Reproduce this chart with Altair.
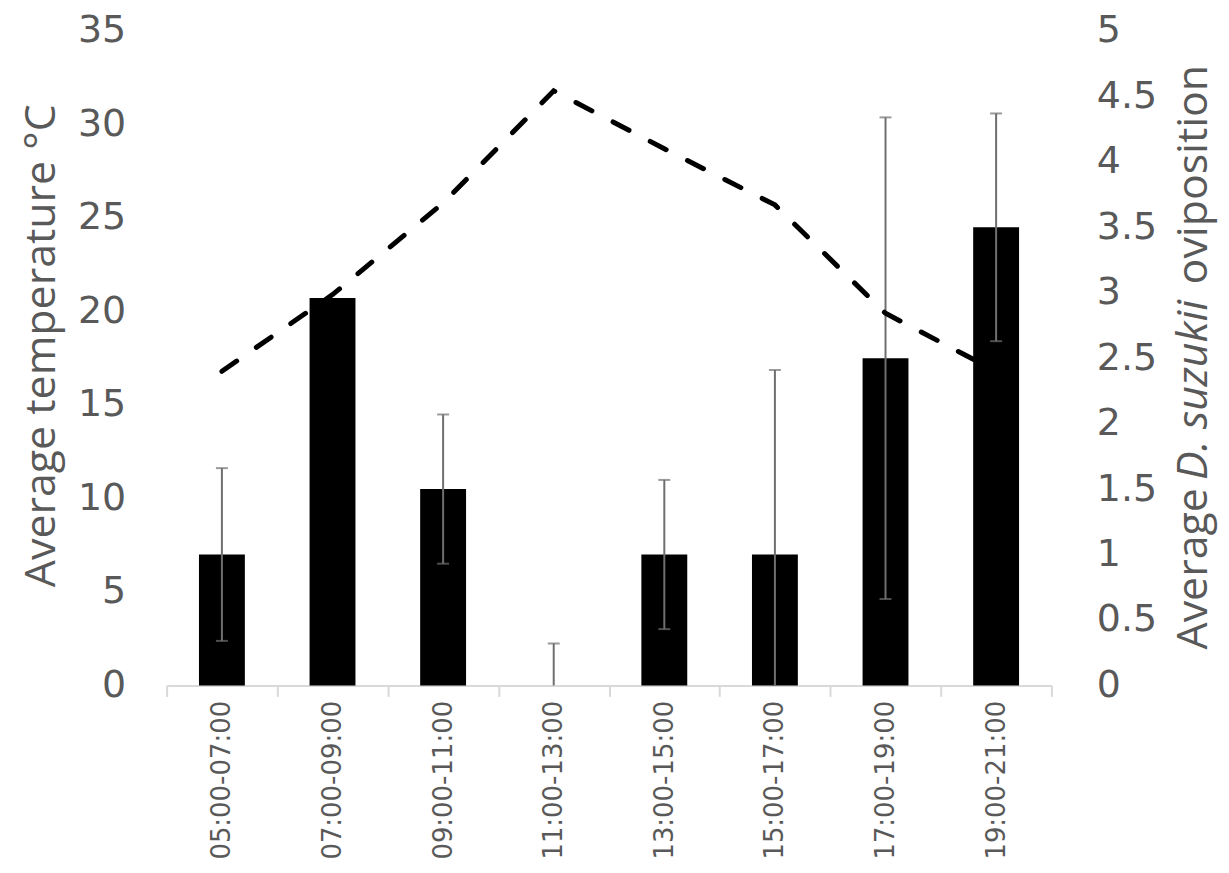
import altair as alt
import pandas as pd

periods = ["05:00-07:00", "07:00-09:00", "09:00-11:00", "11:00-13:00",
           "13:00-15:00", "15:00-17:00", "17:00-19:00", "19:00-21:00"]
temperature = [16.8, 20.9, 25.8, 31.8, 28.7, 25.7, 19.9, 16.8]
oviposition = [1.0, 2.96, 1.5, 0.0, 1.0, 1.0, 2.5, 3.5]
ovi_error = [0.66, 0.0, 0.57, 0.32, 0.57, 1.41, 1.84, 0.87]
left_ticks = [0, 5, 10, 15, 20, 25, 30, 35]
right_ticks = [0, 0.5, 1, 1.5, 2, 2.5, 3, 3.5, 4, 4.5, 5]
left_title = "Average temperature °C"
right_title_parts = ["Average", "D. suzukii", "oviposition"]

df = pd.DataFrame({"period": periods, "temp": temperature,
                   "ovi": oviposition, "err": ovi_error})
df["lo"] = (df["ovi"] - df["err"]).clip(lower=0)
df["hi"] = df["ovi"] + df["err"]

LABEL = "#595959"
ERRC = "#6f6f6f"
TITLE_FONT = "Open Sans"
TITLE_SIZE = 43

x_enc = alt.X("period:N", sort=periods, title=None,
              scale=alt.Scale(paddingInner=0, paddingOuter=0),
              axis=alt.Axis(labelAngle=270, labelAlign="right", labelBaseline="middle",
                            labelFont="DejaVu Sans", labelFontSize=26, labelColor=LABEL,
                            labelPadding=4, domainColor="#d9d9d9", domainWidth=2,
                            tickColor="#d9d9d9", tickWidth=2, tickSize=11,
                            tickBand="extent", grid=False))

y_right = alt.Scale(domain=[0, 5], nice=False, zero=True)
y_left = alt.Scale(domain=[0, 35], nice=False, zero=True)

bars = alt.Chart(df).mark_bar(color="black", size=46).encode(
    x=x_enc,
    y=alt.Y("ovi:Q", scale=y_right, title=None,
            axis=alt.Axis(orient="right", values=right_ticks, labelExpr="'' + datum.value",
                          domain=False, ticks=False, grid=False, labelFont="DejaVu Sans",
                          labelFontSize=38, labelColor=LABEL, labelPadding=45,
                          labelAlign="left")),
)

rules = alt.Chart(df[df["err"] > 0]).mark_rule(color=ERRC, strokeWidth=2).encode(
    x=alt.X("period:N", sort=periods),
    y=alt.Y("lo:Q", scale=y_right, axis=None),
    y2="hi:Q",
)

caps_top = alt.Chart(df[df["err"] > 0]).mark_tick(color=ERRC, thickness=2, size=12).encode(
    x=alt.X("period:N", sort=periods),
    y=alt.Y("hi:Q", scale=y_right, axis=None),
)

caps_bot = alt.Chart(df[(df["err"] > 0) & (df["lo"] > 0)]).mark_tick(
    color=ERRC, thickness=2, size=12).encode(
    x=alt.X("period:N", sort=periods),
    y=alt.Y("lo:Q", scale=y_right, axis=None),
)

line = alt.Chart(df).mark_line(color="black", strokeWidth=5, strokeDash=[18, 24],
                               strokeCap="round").encode(
    x=alt.X("period:N", sort=periods),
    y=alt.Y("temp:Q", scale=y_left, title=left_title,
            axis=alt.Axis(orient="left", values=left_ticks, domain=False, ticks=False,
                          grid=False, labelFont="DejaVu Sans", labelFontSize=38,
                          labelColor=LABEL, labelPadding=41,
                          titleFont=TITLE_FONT, titleFontSize=TITLE_SIZE,
                          titleFontWeight="normal",
                          titleColor=LABEL, titleAngle=270, titleAlign="center",
                          titleBaseline="middle", titleX=-125, titleY=315)),
)

right_title_pos = [(1030, 620), (1030, 450), (1030, 254)]
right_title_style = ["normal", "italic", "normal"]
title_layers = []
for part, (px, py), style in zip(right_title_parts, right_title_pos, right_title_style):
    title_layers.append(
        alt.Chart(pd.DataFrame({"t": [part]})).mark_text(
            angle=270, align="left", baseline="middle", font=TITLE_FONT,
            fontSize=TITLE_SIZE, fontStyle=style, color=LABEL).encode(
            text="t:N", x=alt.value(px), y=alt.value(py))
    )

chart = alt.layer(bars, rules, caps_top, caps_bot, line, *title_layers).resolve_scale(
    y="independent"
).properties(
    width=887, height=656,
    autosize=alt.AutoSizeParams(type="none"),
    padding={"left": 159, "top": 22, "right": 170, "bottom": 180},
).configure_view(stroke=None)

chart.save("out.html", embed_options={"renderer": "svg", "actions": False})
